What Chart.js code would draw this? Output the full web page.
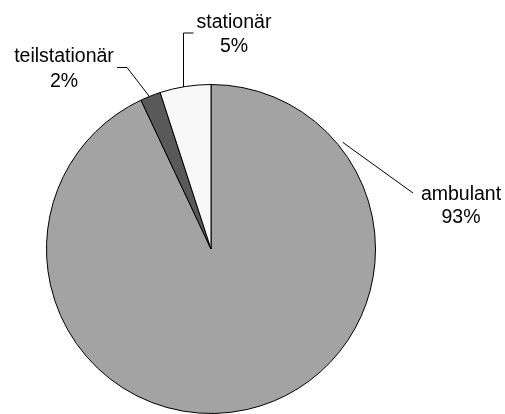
<!DOCTYPE html>
<html>
<head>
<meta charset="utf-8">
<script src="https://cdn.jsdelivr.net/npm/chart.js@4/dist/chart.umd.min.js"></script>
<style>
  html, body { margin: 0; padding: 0; background: #fff; }
  #wrap { width: 505px; height: 414px; position: relative; }
</style>
</head>
<body>
<div id="wrap"><canvas id="c" width="505" height="414"></canvas></div>
<script>
const categories = ["ambulant", "teilstationär", "stationär"];
const values = [93, 2, 5];
const percentLabels = ["93%", "2%", "5%"];
const sliceColors = ["#a3a3a3", "#595959", "#f8f8f8"];

const labelPlugin = {
  id: "pieLabels",
  afterDraw(chart) {
    const arc = chart.getDatasetMeta(0).data[0];
    const cx = arc.x, cy = arc.y, r = arc.outerRadius;
    const ctx = chart.ctx;
    const pt = (deg, rr) => {
      const a = deg * Math.PI / 180;
      return [cx + rr * Math.sin(a), cy - rr * Math.cos(a)];
    };
    ctx.save();
    ctx.strokeStyle = "#000";
    ctx.lineWidth = 1;
    ctx.fillStyle = "#000";
    ctx.font = "19.5px 'Liberation Sans', Arial, sans-serif";
    ctx.textAlign = "center";
    ctx.textBaseline = "alphabetic";

    // stationär leader (bracket)
    let p = pt(-9.8, r);
    ctx.beginPath();
    ctx.moveTo(Math.round(p[0]) + 0.5, p[1]);
    ctx.lineTo(Math.round(p[0]) + 0.5, cy - r - 51.5);
    ctx.lineTo(Math.round(p[0]) + 10.5, cy - r - 51.5);
    ctx.stroke();

    // teilstationär leader
    p = pt(-22, r);
    ctx.beginPath();
    ctx.moveTo(p[0], p[1]);
    ctx.lineTo(cx - 84, cy - 181.5);
    ctx.lineTo(cx - 94, cy - 181.5);
    ctx.stroke();

    // ambulant leader
    p = pt(51, r + 5);
    ctx.beginPath();
    ctx.moveTo(p[0], p[1]);
    ctx.lineTo(cx + 202, cy - 56);
    ctx.stroke();

    // texts
    ctx.fillText(categories[2], cx + 23, cy - 221);
    ctx.fillText(percentLabels[2], cx + 23, cy - 197);
    ctx.fillText(categories[1], cx - 147, cy - 187);
    ctx.fillText(percentLabels[1], cx - 147, cy - 162);
    ctx.fillText(categories[0], cx + 250, cy - 49);
    ctx.fillText(percentLabels[0], cx + 250, cy - 26);
    ctx.restore();
  }
};

new Chart(document.getElementById("c"), {
  type: "pie",
  data: {
    labels: categories,
    datasets: [{
      data: values,
      backgroundColor: sliceColors,
      borderColor: "#000",
      borderWidth: 1
    }]
  },
  options: {
    responsive: false,
    animation: false,
    layout: { padding: { left: 46, right: 129, top: 84, bottom: 0 } },
    plugins: {
      legend: { display: false },
      tooltip: { enabled: false }
    }
  },
  plugins: [labelPlugin]
});
</script>
</body>
</html>
